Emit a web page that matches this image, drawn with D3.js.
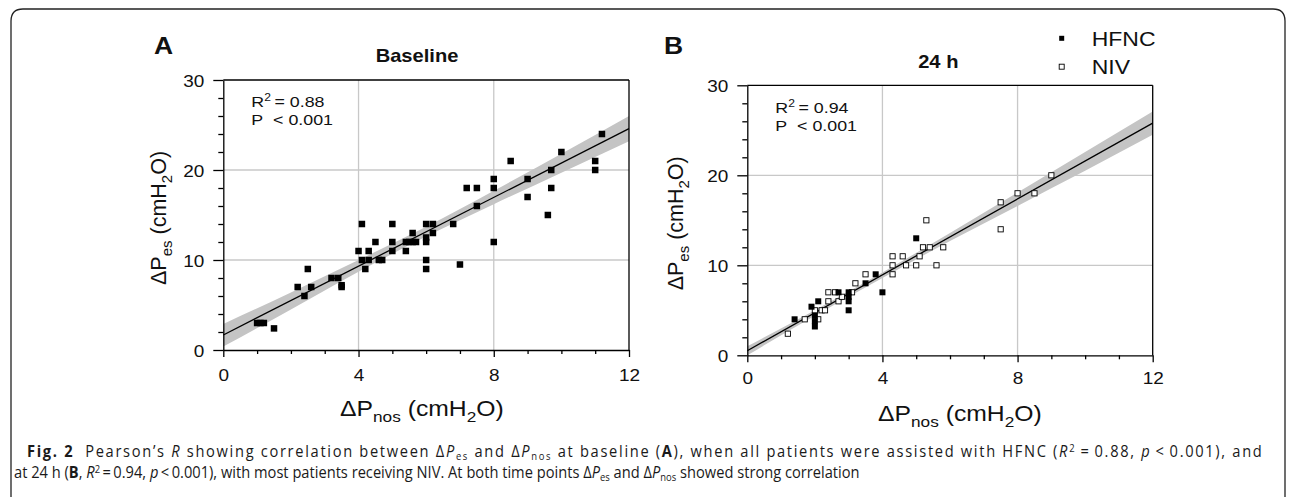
<!DOCTYPE html>
<html lang="en">
<head>
<meta charset="UTF-8">
<title>Fig. 2</title>
<script src="https://d3js.org/d3.v7.min.js"></script>
<style>
  body { margin: 0; background: #fff; }
  svg text { font-family: Arial, "Liberation Sans", sans-serif; fill: #111; }
  .cap text { font-family: "Open Sans", "Liberation Sans", sans-serif; fill: #1a1a1a; }
</style>
</head>
<body>
<script>
// panel A (baseline, all HFNC)
var aX = [1.0,1.1,1.2,1.5,2.2,2.4,2.5,2.6,3.2,3.4,3.5,3.5,4.0,4.1,4.1,4.2,4.3,4.3,4.5,4.6,4.7,
          5.0,5.0,5.0,5.4,5.4,5.5,5.6,5.6,5.7,6.0,6.0,6.0,6.0,6.0,6.2,6.2,6.8,7.0,7.2,7.5,7.5,
          8.0,8.0,8.0,8.5,9.0,9.0,9.6,9.7,9.7,10.0,11.0,11.0,11.2];
var aY = [3,3,3,2.4,7,6,9,7,8,8,7,7.2,11,14,10,9,11,10,12,10,10,
          14,12,11,11,12,12,13,12,12,14,12.5,12,10,9,14,13,14,9.5,18,18,16,
          19,18,12,21,19,17,15,20,18,22,21,20,24];

// panel B (24 h)
var bHfncX = [1.4,1.9,2.0,2.0,2.0,2.1,2.7,3.0,3.0,3.0,3.0,3.5,3.8,4.0,5.0];
var bHfncY = [4,5.4,4.4,3.8,3.2,6,7,7,6.5,6,5,8,9,7,13];
var bNivX = [1.2,1.7,2.0,2.1,2.2,2.3,2.4,2.4,2.6,2.7,2.8,3.1,3.2,3.5,4.3,4.3,4.3,4.6,4.7,
             5.0,5.1,5.2,5.3,5.4,5.6,5.8,7.5,7.5,8.0,8.5,9.0];
var bNivY = [2.4,4,5,4,5,5,6,7,7,6,6.5,7,8,9,11,10,9,11,10,
             10,11,12,15,12,10,12,14,17,18,18,20];

// fitted lines and 95% bands
var fitX = [0, 12];
var aFitY = [1.67, 24.6];
var bFitY = [0.51, 25.8];
var bandX = [0, 2, 4, 6, 8, 10, 12];
var aBandLo = [0.4, 4.5, 8.7, 12.6, 16.2, 19.7, 23.2];
var aBandHi = [2.9, 6.4, 10.0, 13.7, 17.7, 21.8, 26.0];
var bBandLo = [0.0, 4.4, 8.6, 12.7, 16.6, 20.5, 24.5];
var bBandHi = [1.0, 5.0, 9.2, 13.6, 18.1, 22.6, 27.1];

var xMajor = [0, 4, 8, 12];
var xMinor = [1, 2, 3, 5, 6, 7, 9, 10, 11];
var yMajor = [0, 10, 20, 30];
var yMinor = [2, 4, 6, 8, 12, 14, 16, 18, 22, 24, 26, 28];

var SX = 1.15; // the original figure is a bit stretched sideways

var svg = d3.select("body").append("svg")
    .attr("width", 1293).attr("height", 497);

// outer box of the figure
svg.append("path")
    .attr("d", "M11,500 V21 Q11,9 23,9 H1273 Q1285,9 1285,21 V500")
    .attr("fill", "none").attr("stroke", "#222").attr("stroke-width", 1.3);

function stext(g, x, y, str, size, anchor, weight) {
    return g.append("text")
        .attr("transform", "translate(" + x + "," + y + ") scale(" + SX + ",1)")
        .attr("text-anchor", anchor || "start")
        .style("font-size", size + "px")
        .style("font-weight", weight || "normal")
        .text(str);
}

function panel(opt) {
    var g = svg.append("g");
    var x = d3.scaleLinear().domain([0, 12]).range([opt.left, opt.right]);
    var y = d3.scaleLinear().domain([0, 30]).range([opt.bottom, opt.top]);

    // grid
    g.selectAll(".gx").data([4, 8]).enter().append("line")
        .attr("x1", d => x(d)).attr("x2", d => x(d))
        .attr("y1", opt.top).attr("y2", opt.bottom)
        .attr("stroke", "#c8c8c8").attr("stroke-width", 1.3);
    g.selectAll(".gy").data([10, 20]).enter().append("line")
        .attr("x1", opt.left).attr("x2", opt.right)
        .attr("y1", d => y(d)).attr("y2", d => y(d))
        .attr("stroke", "#c8c8c8").attr("stroke-width", 1.3);

    var clipId = "clip" + opt.name;
    svg.append("clipPath").attr("id", clipId).append("rect")
        .attr("x", opt.left).attr("y", opt.top)
        .attr("width", opt.right - opt.left).attr("height", opt.bottom - opt.top);

    // confidence band
    var band = d3.area()
        .x((d, i) => x(bandX[i]))
        .y0((d, i) => y(opt.bandLo[i]))
        .y1((d, i) => y(opt.bandHi[i]))
        .curve(d3.curveMonotoneX);
    g.append("path").datum(bandX)
        .attr("clip-path", "url(#" + clipId + ")")
        .attr("d", band).attr("fill", "#c4c4c4");

    // regression line
    g.append("line")
        .attr("x1", x(fitX[0])).attr("y1", y(opt.fitY[0]))
        .attr("x2", x(fitX[1])).attr("y2", y(opt.fitY[1]))
        .attr("stroke", "#000").attr("stroke-width", 1.3);

    // points
    opt.series.forEach(function (s) {
        g.selectAll(null).data(s.xs).enter().append("rect")
            .attr("x", (d, i) => x(d) - s.size / 2)
            .attr("y", (d, i) => y(s.ys[i]) - s.size / 2)
            .attr("width", s.size).attr("height", s.size)
            .attr("fill", s.open ? "#fff" : "#000")
            .attr("stroke", s.open ? "#000" : "none")
            .attr("stroke-width", 0.9);
    });

    // axes
    var yAx = g.append("g").attr("transform", "translate(" + opt.left + ",0)")
        .call(d3.axisLeft(y).tickValues(yMajor).tickSize(10).tickSizeOuter(0));
    g.append("g").attr("transform", "translate(" + opt.left + ",0)")
        .call(d3.axisLeft(y).tickValues(yMinor).tickSize(5).tickFormat(""))
        .select(".domain").remove();
    var xAx = g.append("g").attr("transform", "translate(0," + opt.bottom + ")")
        .call(d3.axisBottom(x).tickValues(xMajor).tickSize(7).tickSizeOuter(0));
    g.append("g").attr("transform", "translate(0," + opt.bottom + ")")
        .call(d3.axisBottom(x).tickValues(xMinor).tickSize(4).tickFormat(""))
        .select(".domain").remove();
    g.selectAll(".tick line, .domain").attr("stroke", "#000").attr("stroke-width", 1.3);

    yAx.selectAll("text")
        .attr("x", null).attr("dy", null)
        .attr("transform", "translate(-19,6) scale(" + SX + ",1)")
        .style("font-size", "16.5px");
    xAx.selectAll("text")
        .attr("y", null).attr("dy", null)
        .attr("transform", "translate(0," + opt.xTickDy + ") scale(" + SX + ",1)")
        .style("font-size", "16.5px");
    g.selectAll(".tick text").attr("fill", "#111");

    // frame top and right
    g.append("line").attr("x1", opt.left).attr("x2", opt.right)
        .attr("y1", opt.top).attr("y2", opt.top)
        .attr("stroke", "#000").attr("stroke-width", 1.3);
    g.append("line").attr("x1", opt.right).attr("x2", opt.right)
        .attr("y1", opt.top).attr("y2", opt.bottom)
        .attr("stroke", "#000").attr("stroke-width", 1.3);

    // letters and titles
    stext(g, opt.letterX, 53.5, opt.letter, 23, "start", "bold");
    stext(g, opt.titleX, opt.titleY, opt.title, 17.5, "middle", "bold");

    // R2 / P
    var r = stext(g, opt.left + 28, opt.top + opt.statDy, "R", 15.5);
    r.append("tspan").attr("dy", -6).style("font-size", "10.5px").text("2");
    r.append("tspan").attr("dy", 6).text("\u2009= " + opt.r2);
    stext(g, opt.left + 28, opt.top + opt.statDy + 18, "P\u00a0\u00a0< 0.001", 15.5);

    // x label
    var xl = stext(g, opt.xLabX, opt.xLabY, "ΔP", 21.5, "start");
    xl.append("tspan").attr("dy", 6).style("font-size", "15px").text("nos");
    xl.append("tspan").attr("dy", -6).text(" (cmH");
    xl.append("tspan").attr("dy", 6).style("font-size", "15px").text("2");
    xl.append("tspan").attr("dy", -6).text("O)");

    // y label (rotated)
    var yl = g.append("text")
        .attr("transform", "translate(" + opt.yLabX + "," + ((opt.top + opt.bottom) / 2 + 3) + ") rotate(-90)")
        .attr("text-anchor", "middle")
        .style("font-size", "21.5px")
        .text("ΔP");
    yl.append("tspan").attr("dy", 6).style("font-size", "15px").text("es");
    yl.append("tspan").attr("dy", -6).text(" (cmH");
    yl.append("tspan").attr("dy", 6).style("font-size", "15px").text("2");
    yl.append("tspan").attr("dy", -6).text("O)");
    return g;
}

panel({
    name: "A", left: 223.3, right: 629, top: 80, bottom: 350,
    fitY: aFitY, bandLo: aBandLo, bandHi: aBandHi,
    series: [{ xs: aX, ys: aY, size: 6.5, open: false }],
    xTickDy: 30.5, letter: "A", letterX: 154, title: "Baseline", titleX: 417, titleY: 62.3,
    r2: "0.88", statDy: 26.5, xLabX: 340, xLabY: 416, yLabX: 166
});

var gB = panel({
    name: "B", left: 747.3, right: 1152.7, top: 85.3, bottom: 355.3,
    fitY: bFitY, bandLo: bBandLo, bandHi: bBandHi,
    series: [{ xs: bNivX, ys: bNivY, size: 5.2, open: true },
             { xs: bHfncX, ys: bHfncY, size: 6, open: false }],
    xTickDy: 29, letter: "B", letterX: 664, title: "24 h", titleX: 938.3, titleY: 68.3,
    r2: "0.94", statDy: 28, xLabX: 878, xLabY: 420.5, yLabX: 683
});

// legend
var legend = [{ name: "HFNC", open: false, y: 38.3 }, { name: "NIV", open: true, y: 66.7 }];
legend.forEach(function (d) {
    gB.append("rect")
        .attr("x", 1061.7 - 2.5).attr("y", d.y - 2.5).attr("width", 5).attr("height", 5)
        .attr("fill", d.open ? "#fff" : "#000").attr("stroke", d.open ? "#000" : "none")
        .attr("stroke-width", 0.9);
    stext(gB, 1091.7, d.y + 7.5, d.name, 20, "start");
});

// caption (first line is justified to the full width, last line is not)
var lines = [
    [["Fig. 2", "b"], ["\u00a0\u00a0Pearson’s "], ["R", "i"], [" showing correlation between Δ"], ["P", "i"], ["es", "sub"],
     [" and Δ"], ["P", "i"], ["nos", "sub"], [" at baseline ("], ["A", "b"],
     ["), when all patients were assisted with HFNC ("], ["R", "i"], ["2", "sup"], ["\u2009=\u20090.88, "], ["p", "i"],
     ["\u2009<\u20090.001), and"]],
    [["at 24 h ("], ["B", "b"], [", "], ["R", "i"], ["2", "sup"], ["\u2009=\u20090.94, "], ["p", "i"],
     ["\u2009<\u20090.001), with most patients receiving NIV. At both time points Δ"], ["P", "i"], ["es", "sub"],
     [" and Δ"], ["P", "i"], ["nos", "sub"], [" showed strong correlation"]]
];
var capX = [27, 14], capY = [457, 478], capEnd = [1264, 860];
var capGroups = lines.map(function (parts, li) {
    var g = svg.append("g").attr("class", "cap");
    var t = g.append("text").attr("x", 0).attr("y", 0).style("font-size", "15.5px");
    var shift = 0, chars = 0;
    parts.forEach(function (p) {
        var s = t.append("tspan").text(p[0]);
        chars += p[0].length;
        var want = p[1] === "sub" ? 2.5 : p[1] === "sup" ? -5 : 0;
        if (want !== shift) { s.attr("dy", want - shift); shift = want; }
        if (p[1] === "b") s.style("font-weight", "bold");
        if (p[1] === "i") s.style("font-style", "italic");
        if (p[1] === "sub" || p[1] === "sup") s.style("font-size", "10px");
    });
    return { g: g, t: t, chars: chars };
});
// squeeze sideways so the last line ends near where it does in the picture,
// then spread the first line out to the full width
var k = (capEnd[1] - capX[1]) / capGroups[1].t.node().getComputedTextLength();
var c0 = capGroups[0];
var extra = (capEnd[0] - capX[0]) / k - c0.t.node().getComputedTextLength();
c0.t.style("letter-spacing", (extra / c0.chars) + "px");
capGroups.forEach(function (c, i) {
    c.g.attr("transform", "translate(" + capX[i] + "," + capY[i] + ") scale(" + k + ",1)");
});
</script>
</body>
</html>
